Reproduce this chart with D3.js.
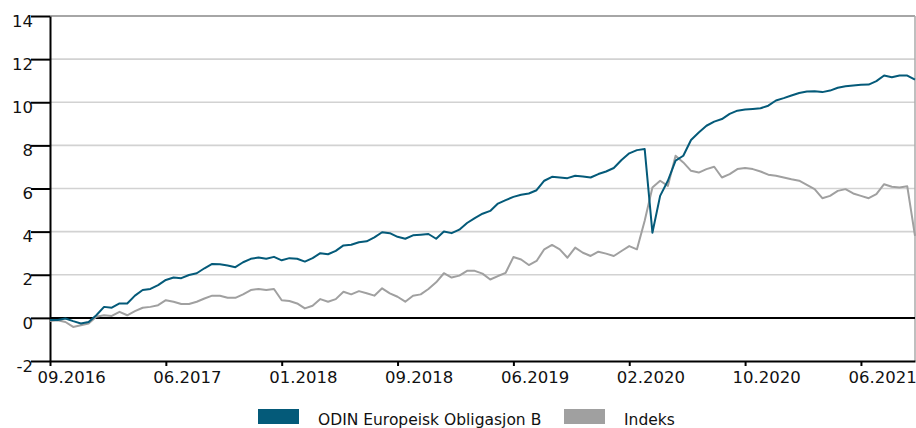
<html>
  <head>
    <meta charset="utf-8" />
    <title>ODIN Europeisk Obligasjon B</title>
    <script src="https://cdn.jsdelivr.net/npm/d3@7"></script>
    <style>
      body { margin: 0; background: #fff; }
      text { font-family: "DejaVu Sans", sans-serif; fill: #111; }
    </style>
  </head>
  <body>
    <div id="chart"></div>
  </body>
  <script>
    // values sampled at equal steps along the x axis
    var fundValues = [
      -0.1, -0.1, -0.03, -0.15, -0.26, -0.19, 0.12, 0.51, 0.47, 0.67,
      0.67, 1.03, 1.29, 1.34, 1.52, 1.76, 1.87, 1.84, 1.99, 2.07,
      2.3, 2.5, 2.49, 2.43, 2.35, 2.58, 2.74, 2.8, 2.74, 2.83,
      2.67, 2.77, 2.74, 2.61, 2.77, 3.0, 2.95, 3.11, 3.36, 3.39,
      3.51, 3.55, 3.73, 3.97, 3.93, 3.76, 3.67, 3.83, 3.86, 3.89,
      3.67, 4.01, 3.93, 4.09, 4.4, 4.63, 4.83, 4.96, 5.3, 5.46,
      5.61, 5.71, 5.77, 5.92, 6.36, 6.54, 6.51, 6.48, 6.59, 6.56,
      6.51, 6.67, 6.79, 6.95, 7.32, 7.63, 7.78, 7.83, 3.95, 5.66,
      6.36, 7.29, 7.52, 8.25, 8.6, 8.91, 9.1, 9.22, 9.46, 9.61,
      9.66, 9.69, 9.72, 9.84, 10.08, 10.19, 10.31, 10.43, 10.5, 10.51,
      10.47, 10.54, 10.67, 10.74, 10.78, 10.81, 10.82, 10.98, 11.24, 11.16,
      11.24, 11.24, 11.05
    ];
    var indexValues = [
      -0.14, -0.11, -0.19, -0.42, -0.34, -0.26, 0.05, 0.12, 0.09, 0.28,
      0.12, 0.31, 0.47, 0.51, 0.59, 0.82, 0.75, 0.64, 0.64, 0.75,
      0.9, 1.03, 1.03, 0.93, 0.93, 1.09, 1.29, 1.34, 1.29, 1.34,
      0.82, 0.78, 0.67, 0.44, 0.56, 0.87, 0.75, 0.87, 1.21, 1.09,
      1.24, 1.14, 1.03, 1.37, 1.14, 0.98, 0.75, 1.03, 1.09, 1.34,
      1.65, 2.07, 1.87, 1.96, 2.18, 2.18, 2.05, 1.78, 1.94, 2.09,
      2.82, 2.71, 2.45, 2.64, 3.18, 3.38, 3.18, 2.79, 3.26, 3.02,
      2.87, 3.07, 2.98, 2.87, 3.1, 3.33, 3.18, 4.5, 6.05, 6.36,
      6.12, 7.52, 7.21, 6.82, 6.74, 6.9, 7.01, 6.51, 6.67, 6.9,
      6.95, 6.9, 6.79, 6.64, 6.59, 6.51, 6.43, 6.36, 6.17, 5.97,
      5.55, 5.66, 5.89, 5.97, 5.77, 5.66, 5.55, 5.74, 6.2, 6.08,
      6.05, 6.1, 3.8
    ];
    var xTickIndex = [0, 15, 30, 45, 60, 75, 90, 105];
    var xTickLabels = ["09.2016", "06.2017", "01.2018", "09.2018", "06.2019", "02.2020", "10.2020", "06.2021"];
    var yTicks = [-2, 0, 2, 4, 6, 8, 10, 12, 14];
    var seriesNames = ["ODIN Europeisk Obligasjon B", "Indeks"];
    var seriesColors = ["#045a79", "#a0a0a0"];

    var width = 916, height = 428;
    var plotLeft = 50, plotRight = 915, plotTop = 16, plotBottom = 361;

    var svg = d3
      .select("#chart")
      .append("svg")
      .attr("width", width)
      .attr("height", height);

    var xScale = d3.scaleLinear().domain([0, fundValues.length - 1]).range([plotLeft, plotRight]);
    var yScale = d3.scaleLinear().domain([-2, 14]).range([plotBottom, plotTop]);

    // grid
    svg
      .append("g")
      .selectAll("line")
      .data(yTicks.filter((d) => d > 0 && d < 14))
      .enter()
      .append("line")
      .attr("x1", plotLeft)
      .attr("x2", plotRight)
      .attr("y1", (d) => yScale(d))
      .attr("y2", (d) => yScale(d))
      .attr("stroke", "#d2d2d2")
      .attr("stroke-width", 1.6);

    // top and right border
    svg
      .append("line")
      .attr("x1", plotLeft).attr("x2", plotRight)
      .attr("y1", yScale(14)).attr("y2", yScale(14))
      .attr("stroke", "#888").attr("stroke-width", 1.5);
    svg
      .append("line")
      .attr("x1", plotRight).attr("x2", plotRight)
      .attr("y1", yScale(14)).attr("y2", plotBottom)
      .attr("stroke", "#aaa").attr("stroke-width", 1.5);

    // zero line
    svg
      .append("line")
      .attr("x1", plotLeft).attr("x2", plotRight)
      .attr("y1", yScale(0)).attr("y2", yScale(0))
      .attr("stroke", "#000").attr("stroke-width", 2);

    // Y axis
    var yAxis = svg
      .append("g")
      .attr("transform", "translate(" + plotLeft + ",0)")
      .call(
        d3.axisLeft(yScale)
          .tickValues(yTicks)
          .tickFormat((d) => String(d))
          .tickSize(19)
          .tickSizeOuter(0)
          .tickPadding(0)
      );
    yAxis.select(".domain").attr("stroke", "#000").attr("stroke-width", 2);
    yAxis.selectAll(".tick line").attr("stroke", "#000").attr("stroke-width", 2);
    yAxis
      .selectAll(".tick text")
      .attr("x", -17)
      .attr("dy", "0.62em")
      .attr("font-size", "16.5px")
      .attr("font-family", "DejaVu Sans")
      .attr("fill", "#111");

    // X axis
    var xAxis = svg
      .append("g")
      .attr("transform", "translate(0," + plotBottom + ")")
      .call(
        d3.axisBottom(xScale)
          .tickValues(xTickIndex)
          .tickFormat((d, i) => xTickLabels[i])
          .tickSize(5)
          .tickSizeOuter(0)
      );
    xAxis.select(".domain").attr("stroke", "#000").attr("stroke-width", 2);
    xAxis.selectAll(".tick line").attr("stroke", "#000").attr("stroke-width", 2);
    xAxis
      .selectAll(".tick text")
      .attr("text-anchor", "start")
      .attr("x", -13)
      .attr("y", 22)
      .attr("dy", 0)
      .attr("font-size", "16.5px")
      .attr("font-family", "DejaVu Sans")
      .attr("fill", "#111");

    // lines
    var line = d3
      .line()
      .x((d, i) => xScale(i))
      .y((d) => yScale(d));

    [indexValues, fundValues].forEach(function (vals, k) {
      svg
        .append("path")
        .datum(vals)
        .attr("fill", "none")
        .attr("stroke", seriesColors[1 - k])
        .attr("stroke-width", 2)
        .attr("stroke-linejoin", "round")
        .attr("d", line);
    });

    // legend
    var legendX = [258, 564];
    var legend = svg
      .append("g")
      .selectAll("g")
      .data(seriesNames)
      .enter()
      .append("g")
      .attr("transform", (d, i) => "translate(" + legendX[i] + ",409)");
    legend
      .append("rect")
      .attr("width", 41)
      .attr("height", 15)
      .attr("fill", (d, i) => seriesColors[i]);
    legend
      .append("text")
      .attr("x", 60)
      .attr("y", 15.5)
      .attr("font-size", "15.5px")
      .text((d) => d);
  </script>
</html>
